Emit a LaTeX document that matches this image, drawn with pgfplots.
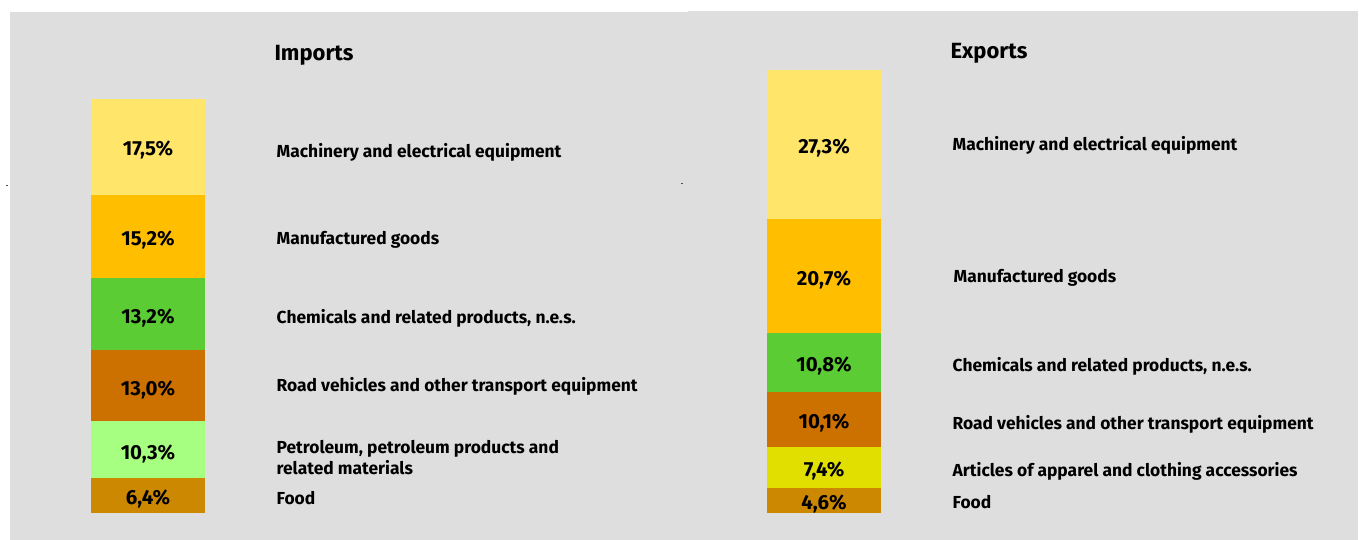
\documentclass[border=0pt]{standalone}
\usepackage{pgfplots}
\pgfplotsset{compat=1.18}
\usepackage{fontspec}
\setmainfont{Fira Sans}

\definecolor{bg}{HTML}{DEDEDE}
\definecolor{cmach}{HTML}{FFE66B}
\definecolor{cmanu}{HTML}{FFBF00}
\definecolor{cchem}{HTML}{5BCC33}
\definecolor{croad}{HTML}{CC7000}
\definecolor{cpetr}{HTML}{A6FF80}
\definecolor{cappa}{HTML}{E0DF00}
\definecolor{cfood}{HTML}{CC8800}

% 1 px of the reference = 0.5pt
\pgfplotsset{
  share/.style={
    anchor=south west, scale only axis, hide axis, clip=false,
    x=57pt, y=2.74pt, xmin=-0.5, xmax=0.5, ymin=0,
    ybar stacked, bar width=57pt,
    every axis plot/.append style={draw=none},
  },
}
\tikzset{
  val/.style={font=\bfseries\fontsize{10.2}{12}\selectfont, yshift=-1.9pt},
  cat/.style={font=\bfseries\fontsize{8.7}{10.5}\selectfont, anchor=west,
    xshift=32.3pt, yshift=-1.2pt, align=left},
}

\begin{document}
\begin{tikzpicture}
\useasboundingbox (0,0) rectangle (679.5pt,-270pt);
\begin{scope}[x=0.5pt,y=-0.5pt]
  \fill[bg] (10,12) rectangle (688,540);
  \fill[bg] (688,11) rectangle (1358,540);
  \fill[black!70] (6,184.5) rectangle (8,185.5);
  \fill[black!70] (681,182.5) rectangle (683,183.5);
  \node[font=\bfseries\fontsize{11}{13}\selectfont] at (314,55) {Imports};
  \node[font=\bfseries\fontsize{11}{13}\selectfont] at (989,53) {Exports};
\end{scope}

% Imports
\begin{axis}[share, at={(45.5pt,-256.5pt)}, ymax=76]
  \addplot[fill=cfood] coordinates {(0,6.4)};
  \addplot[fill=cpetr] coordinates {(0,10.3)};
  \addplot[fill=croad] coordinates {(0,13.0)};
  \addplot[fill=cchem] coordinates {(0,13.2)};
  \addplot[fill=cmanu] coordinates {(0,15.2)};
  \addplot[fill=cmach] coordinates {(0,17.5)};
  \coordinate (i1) at (axis cs:0,3.2);
  \coordinate (i2) at (axis cs:0,11.55);
  \coordinate (i3) at (axis cs:0,23.2);
  \coordinate (i4) at (axis cs:0,36.3);
  \coordinate (i5) at (axis cs:0,50.5);
  \coordinate (i6) at (axis cs:0,66.85);
  \node[cat] at (axis cs:0.5,3.2) {Food};
  \node[cat] at (axis cs:0.5,10.5) {Petroleum, petroleum products and\\related materials};
  \node[cat] at (axis cs:0.5,23.5) {Road vehicles and other transport equipment};
  \node[cat] at (axis cs:0.5,35.9) {Chemicals and related products, n.e.s.};
  \node[cat] at (axis cs:0.5,50.3) {Manufactured goods};
  \node[cat] at (axis cs:0.5,66.3) {Machinery and electrical equipment};
\end{axis}
\node[val] at (i1) {6,4\%};
\node[val] at (i2) {10,3\%};
\node[val] at (i3) {13,0\%};
\node[val] at (i4) {13,2\%};
\node[val] at (i5) {15,2\%};
\node[val] at (i6) {17,5\%};

% Exports
\begin{axis}[share, at={(383.5pt,-256.5pt)}, ymax=81]
  \addplot[fill=cfood] coordinates {(0,4.6)};
  \addplot[fill=cappa] coordinates {(0,7.4)};
  \addplot[fill=croad] coordinates {(0,10.1)};
  \addplot[fill=cchem] coordinates {(0,10.8)};
  \addplot[fill=cmanu] coordinates {(0,20.7)};
  \addplot[fill=cmach] coordinates {(0,27.3)};
  \coordinate (e1) at (axis cs:0,2.3);
  \coordinate (e2) at (axis cs:0,8.3);
  \coordinate (e3) at (axis cs:0,17.05);
  \coordinate (e4) at (axis cs:0,27.5);
  \coordinate (e5) at (axis cs:0,43.25);
  \coordinate (e6) at (axis cs:0,67.25);
  \node[cat] at (axis cs:0.5,2.4) {Food};
  \node[cat] at (axis cs:0.5,8.0) {Articles of apparel and clothing accessories};
  \node[cat] at (axis cs:0.5,16.6) {Road vehicles and other transport equipment};
  \node[cat] at (axis cs:0.5,27.2) {Chemicals and related products, n.e.s.};
  \node[cat, xshift=0.5pt] at (axis cs:0.5,43.3) {Manufactured goods};
  \node[cat] at (axis cs:0.5,67.6) {Machinery and electrical equipment};
\end{axis}
\node[val] at (e1) {4,6\%};
\node[val] at (e2) {7,4\%};
\node[val] at (e3) {10,1\%};
\node[val] at (e4) {10,8\%};
\node[val] at (e5) {20,7\%};
\node[val] at (e6) {27,3\%};
\end{tikzpicture}
\end{document}
